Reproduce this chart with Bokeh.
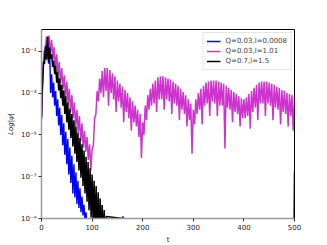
import numpy as np
from bokeh.plotting import figure
from bokeh.models import Range1d, FixedTicker, CustomJSTickFormatter, Legend, LegendItem
from bokeh.embed import file_html
from bokeh.resources import INLINE

# ---- data (log10 |psi|) ----
# magenta  Q=0.03, l=1.01 : local maxima at t = 0,5,...,500 and minima at t = 2.5,...,497.5
mag_peak_t = np.arange(0, 501, 5.0)
mag_peak = [-4.2, -1.0, -0.3, -0.25, -0.45, -0.8, -1.15, -1.5, -1.8, -2.15,
            -2.45, -2.8, -3.1, -3.45, -3.8, -4.1, -4.45, -4.8, -5.1, -5.45,
            -5.7, -4.2, -2.9, -2.3, -1.95, -1.8, -1.8, -1.9, -2.05, -2.2,
            -2.4, -2.55, -2.7, -2.85, -3.0, -3.2, -3.4, -3.6, -3.8, -4.0,
            -4.4, -3.6, -3.1, -2.8, -2.55, -2.4, -2.25, -2.2, -2.2, -2.25,
            -2.3, -2.35, -2.45, -2.55, -2.65, -2.8, -2.95, -3.1, -3.3, -3.5,
            -3.8, -3.3, -3.0, -2.8, -2.65, -2.5, -2.45, -2.4, -2.4, -2.4,
            -2.45, -2.5, -2.55, -2.65, -2.75, -2.85, -2.95, -3.05, -3.15, -3.25,
            -3.3, -3.2, -3.05, -2.9, -2.75, -2.6, -2.5, -2.45, -2.45, -2.45,
            -2.5, -2.55, -2.6, -2.7, -2.75, -2.85, -2.9, -3.0, -3.05, -3.1,
            -3.2]
mag_trough_t = np.arange(2.5, 500, 5.0)
mag_trough = [-2.4, -0.9, -0.8, -1.1, -1.4, -1.8, -2.1, -2.5, -2.8, -3.2,
              -3.5, -3.9, -4.2, -4.6, -4.9, -5.3, -5.6, -5.8, -6.2, -6.7,
              -5.5, -4.0, -3.4, -3.0, -3.2, -2.9, -3.6, -3.0, -3.3, -3.9,
              -3.4, -3.7, -4.4, -3.9, -4.2, -4.8, -4.4, -4.6, -5.1, -6.1,
              -5.0, -4.3, -3.8, -3.6, -3.5, -3.9, -3.3, -3.3, -3.8, -3.3,
              -3.4, -4.0, -3.5, -3.6, -4.3, -3.8, -4.0, -4.6, -4.3, -5.9,
              -4.5, -4.0, -3.8, -4.5, -3.6, -3.5, -4.1, -3.4, -3.5, -4.1,
              -3.6, -3.6, -5.65, -3.7, -3.8, -4.4, -3.9, -4.0, -4.6, -4.2,
              -4.2, -4.1, -4.7, -3.9, -3.7, -4.3, -3.5, -3.5, -4.1, -3.5,
              -3.6, -4.3, -3.7, -3.8, -4.5, -3.9, -4.0, -4.6, -4.1, -4.8]

# blue  Q=0.03, l=0.0008 : maxima at t = 0,4,...,96 ; minima at t = 2,6,...,94
blue_peak_t = np.arange(0, 97, 4.0)
blue_peak = [-4.2, -1.5, -0.7, -0.55, -0.8, -2.1, -2.5, -2.9, -3.3, -3.7,
             -4.05, -4.45, -4.85, -5.2, -5.6, -6.0, -6.4, -6.8, -7.2, -7.55,
             -7.95, -8.35, -8.7, -9.1, -9.4]
blue_trough_t = np.arange(2, 95, 4.0)
blue_trough = [-2.6, -1.3, -1.2, -1.6, -3.0, -3.2, -3.6, -4.1, -4.55, -5.0,
               -5.5, -5.95, -6.4, -6.9, -7.3, -7.8, -8.0, -8.3, -8.5, -8.7,
               -8.85, -9.1, -9.3, -9.6]
blue_blip_t = [159.0, 161.0, 163.0]
blue_blip = [-9.6, -8.9, -9.6]

# black  Q=0.7, l=1.5 : maxima at t = 0,4,...,128 ; minima at t = 2,6,...,126
black_peak_t = np.arange(0, 129, 4.0)
black_peak = [-4.2, -1.5, -0.8, -0.3, -0.85, -1.15, -1.45, -1.7, -2.0, -2.3,
              -2.6, -2.87, -3.15, -3.45, -3.75, -4.0, -4.3, -4.6, -4.9, -5.15,
              -5.45, -5.75, -6.05, -6.3, -6.6, -6.9, -7.2, -7.45, -7.75, -8.05,
              -8.35, -8.6, -8.9]
black_trough_t = np.arange(2, 127, 4.0)
black_trough = [-2.4, -1.6, -1.4, -1.5, -1.35, -1.75, -2.1, -2.5, -2.87, -3.25,
                -3.6, -4.0, -4.4, -4.75, -5.15, -5.55, -5.9, -6.3, -6.7, -7.05,
                -7.45, -7.8, -8.2, -8.6, -8.95, -9.3, -9.7, -10.0, -10.0, -10.0,
                -10.0, -10.0]
black_tail_t = [499.0, 500.0]
black_tail = [-10.0, -6.75]

labels = ["Q=0.03,l=0.0008", "Q=0.03,l=1.01", "Q=0.7,l=1.5"]
x_ticks = [0, 100, 200, 300, 400, 500]
y_ticks = [1e-9, 1e-7, 1e-5, 1e-3, 1e-1]


def merge(pt, pv, tt, tv, extra_t=(), extra_v=()):
    t = np.concatenate([np.asarray(pt), np.asarray(tt), np.asarray(extra_t, dtype=float)])
    v = np.concatenate([np.asarray(pv), np.asarray(tv), np.asarray(extra_v, dtype=float)])
    o = np.argsort(t, kind="stable")
    return t[o], 10.0 ** v[o]


bt, bv = merge(blue_peak_t, blue_peak, blue_trough_t, blue_trough)
mt, mv = merge(mag_peak_t, mag_peak, mag_trough_t, mag_trough)
kt, kv = merge(black_peak_t, black_peak, black_trough_t, black_trough, black_tail_t, black_tail)

p = figure(frame_width=253, frame_height=189, y_axis_type="log",
           x_range=Range1d(0, 500), y_range=Range1d(1e-9, 1.1),
           output_backend="svg", toolbar_location=None,
           min_border_left=41, min_border_top=29, min_border_right=22, min_border_bottom=24)
p.background_fill_color = "white"
p.border_fill_color = "white"
p.outline_line_color = "black"
p.outline_line_width = 1
p.xgrid.visible = False
p.ygrid.visible = False

r_blue = p.line(bt, bv, line_color="#0000ff", line_width=1.4)
p.line(blue_blip_t, [10.0 ** v for v in blue_blip], line_color="#0000ff", line_width=1.5)
r_mag = p.line(mt, mv, line_color="#c000c0", line_width=1.5, line_alpha=0.8)
r_black = p.line(kt, kv, line_color="black", line_width=1.5)

for ax in (p.xaxis[0], p.yaxis[0]):
    ax.axis_line_color = "#9a9a9a"
    ax.axis_line_width = 1.5
    ax.major_tick_line_color = "#333333"
    ax.major_tick_in = 0
    ax.major_tick_out = 3
    ax.minor_tick_line_color = None
    ax.major_label_text_font = "DejaVu Sans"
    ax.major_label_text_font_size = "7px"
    ax.major_label_text_color = "#222222"
    ax.axis_label_text_font = "DejaVu Sans"
    ax.axis_label_text_font_size = "7px"
    ax.axis_label_text_color = "#222222"
    ax.major_label_standoff = 2
    ax.axis_label_standoff = 3

p.xaxis.ticker = FixedTicker(ticks=x_ticks)
p.xaxis.axis_label = "t"
p.xaxis.axis_label_text_font_style = "normal"
p.yaxis.ticker = FixedTicker(ticks=y_ticks)
p.yaxis.axis_label = "Log|ψ|"
p.yaxis.axis_label_text_font_style = "italic"
p.yaxis.formatter = CustomJSTickFormatter(code="""
const sup = {"-": "\u207b", "0": "\u2070", "1": "\u00b9", "2": "\u00b2", "3": "\u00b3",
             "4": "\u2074", "5": "\u2075", "6": "\u2076", "7": "\u2077", "8": "\u2078", "9": "\u2079"};
const e = Math.round(Math.log10(tick));
return "10" + String(e).split("").map(c => sup[c]).join("");
""")

legend = Legend(items=[LegendItem(label=labels[0], renderers=[r_blue]),
                       LegendItem(label=labels[1], renderers=[r_mag]),
                       LegendItem(label=labels[2], renderers=[r_black])],
                location="top_right", margin=3, padding=3, spacing=0,
                glyph_width=14, glyph_height=10, label_height=10, label_standoff=5,
                label_text_font="DejaVu Sans", label_text_font_size="7px",
                border_line_color="#cccccc", border_line_width=1,
                background_fill_alpha=0.85)
p.add_layout(legend)

open("out.html", "w").write(file_html(p, INLINE))
